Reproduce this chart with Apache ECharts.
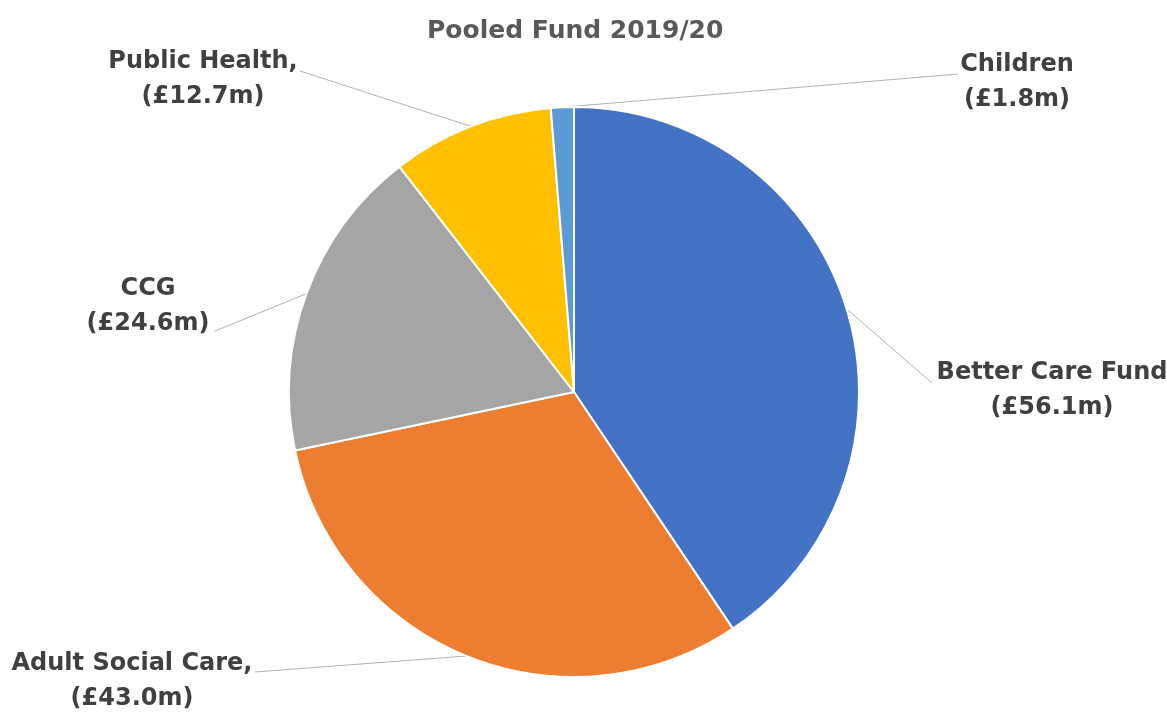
<!DOCTYPE html>
<html>
<head>
<meta charset="utf-8">
<script src="https://cdn.jsdelivr.net/npm/echarts@6/dist/echarts.min.js"></script>
<style>
  html, body { margin: 0; padding: 0; background: #fff; }
  #main { width: 1167px; height: 713px; }
</style>
</head>
<body>
<div id="main"></div>
<script>
// 分类名称（标签上显示的文字）
var categories = ['Better Care Fund', 'Adult Social Care,', 'CCG', 'Public Health,', 'Children'];
// 金额（百万英镑）
var values = [56.1, 43.0, 24.6, 12.7, 1.8];
// 扇区颜色
var colors = ['#4472C4', '#ED7D31', '#A5A5A5', '#FFC000', '#5B9BD5'];

// 标签位置（标签中心）和引线终点
var labelPos = [[1052, 390], [132, 681], [148, 306], [203, 79], [1017, 82]];
var lineEnd = [[932, 383], [255, 672], [215, 331], [300, 71], [958, 74]];

var myChart = echarts.init(document.getElementById('main'));

var option = {
    title: {
        text: 'Pooled Fund 2019/20',
        left: 422,
        top: 14,
        textStyle: {
            fontFamily: 'DejaVu Sans',
            fontWeight: 'bold',
            fontSize: 25,
            color: '#595959'
        }
    },
    series: [
        {
            type: 'pie',
            center: [574, 392],
            radius: 285,
            startAngle: 90,
            clockwise: true,
            avoidLabelOverlap: false,
            animation: false,
            itemStyle: {
                borderColor: '#ffffff',
                borderWidth: 2
            },
            label: {
                show: true,
                position: 'outside',
                fontFamily: 'DejaVu Sans',
                fontWeight: 'bold',
                fontSize: 24,
                lineHeight: 35,
                color: '#404040',
                align: 'center',
                formatter: function (p) {
                    return p.name + '\n(£' + p.value.toFixed(1) + 'm)';
                }
            },
            labelLine: {
                show: true,
                lineStyle: { color: '#B0B0B0', width: 1 }
            },
            labelLayout: function (params) {
                var i = params.dataIndex;
                var start = params.labelLinePoints[0];
                return {
                    x: labelPos[i][0],
                    y: labelPos[i][1],
                    align: 'center',
                    verticalAlign: 'middle',
                    labelLinePoints: [start, lineEnd[i], lineEnd[i]]
                };
            },
            data: categories.map(function (name, i) {
                return { name: name, value: values[i], itemStyle: { color: colors[i] } };
            })
        }
    ]
};

myChart.setOption(option);
</script>
</body>
</html>
